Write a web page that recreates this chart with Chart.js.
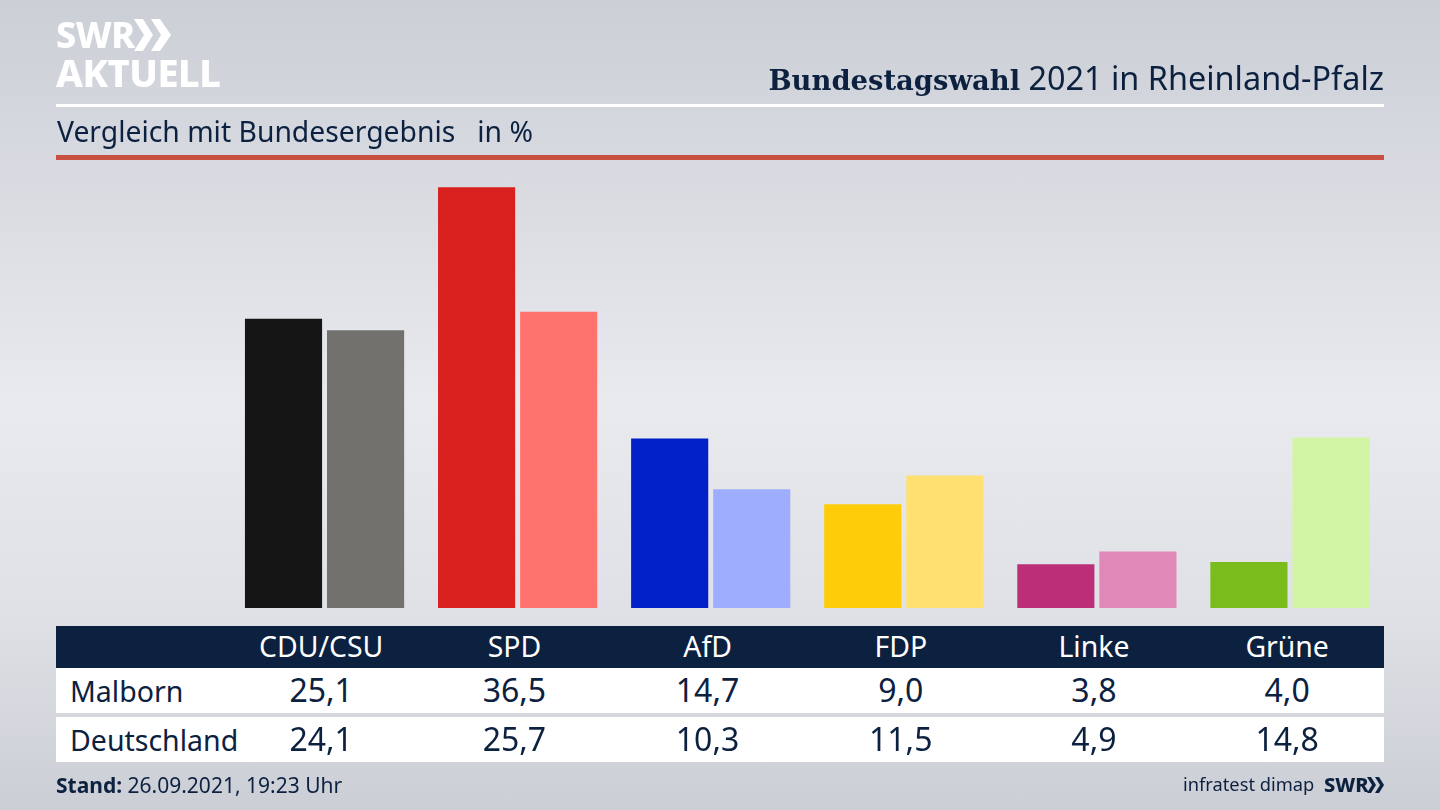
<!DOCTYPE html>
<html lang="de">
<head>
<meta charset="utf-8">
<title>Bundestagswahl 2021 in Rheinland-Pfalz</title>
<script src="https://cdn.jsdelivr.net/npm/chart.js@4"></script>
<style>
html, body { margin: 0; padding: 0; }
body {
    width: 1440px; height: 810px; overflow: hidden; position: relative;
    font-family: "Noto Sans", sans-serif; color: #0c2140;
    background: linear-gradient(180deg, #cbcfd6 0%, #dadce2 25%, #e9eaee 50%, #dfe1e6 75%, #cbced5 100%);
}
#chart { position: absolute; left: 0; top: 0; }
.abs { position: absolute; white-space: nowrap; }
.logo { color: #fff; font-weight: 800; letter-spacing: -0.5px; }
#title { right: 56px; top: 56px; font-size: 32.4px; line-height: 42px; }
#title b { font-family: "DejaVu Serif", serif; font-size: 27.4px; }
#subtitle { left: 57px; top: 112px; font-size: 28.3px; line-height: 38px; }
#rule1 { left: 56px; top: 104px; width: 1328px; height: 3px; background: #fff; }
#rule2 { left: 56px; top: 155px; width: 1328px; height: 5px; background: #c94f3f; }
#table { left: 56px; top: 626px; width: 1328px; }
.row { position: absolute; left: 0; width: 1328px; display: flex; background: #fff; align-items: center; font-size: 32px; }
.row.head { background: #0c2140; color: #fff; font-size: 28.4px; }
.row .name { width: 168.6px; padding-left: 14px; box-sizing: border-box; font-size: 28.5px; }
.row .cell { width: 193.2px; text-align: center; position: relative; top: -1px; }
#stand { left: 56px; top: 771px; font-size: 21px; line-height: 28px; }
#source { left: 1183px; top: 770px; font-size: 18.3px; line-height: 28px; }
</style>
</head>
<body>
<canvas id="chart" width="1440" height="810"></canvas>

<div class="abs logo" style="left:56px;top:13px;font-size:36px;line-height:44px;">SWR</div>
<svg class="abs" style="left:134px;top:19px;" width="38" height="32">
    <path d="M0 0h9l10 16-10 16h-9l10-16z M17 0h9l11 16-11 16h-9l10-16z" fill="#fff"/>
</svg>
<div class="abs logo" style="left:56px;top:50px;font-size:38px;line-height:44px;">AKTUELL</div>

<div class="abs" id="title"><b>Bundestagswahl</b> 2021 in Rheinland-Pfalz</div>
<div class="abs" id="rule1"></div>
<div class="abs" id="subtitle">Vergleich mit Bundesergebnis&nbsp;&nbsp; in %</div>
<div class="abs" id="rule2"></div>

<div class="abs" id="table"></div>

<div class="abs" id="stand"><b>Stand:</b> 26.09.2021, 19:23 Uhr</div>
<div class="abs" id="source">infratest dimap</div>
<div class="abs" style="left:1324px;top:771px;font-size:20px;line-height:28px;font-weight:800;">SWR</div>
<svg class="abs" style="left:1367px;top:777px;" width="17" height="16">
    <path d="M0 0h4l5 8-5 8h-4l5-8z M8 0h4l5 8-5 8h-4l5-8z" fill="#0c2140"/>
</svg>

<script>
const parties = ["CDU/CSU", "SPD", "AfD", "FDP", "Linke", "Grüne"];
const malborn = [25.1, 36.5, 14.7, 9.0, 3.8, 4.0];
const deutschland = [24.1, 25.7, 10.3, 11.5, 4.9, 14.8];
const malbornColors = ["#151515", "#d8201f", "#0220c8", "#ffcc0a", "#bc2f78", "#79bc1c"];
const deutschlandColors = ["#72716e", "#ff736e", "#9fadff", "#ffe070", "#e088b7", "#d2f5a5"];

// table under the bars
function fmt(v) {
    return v.toFixed(1).replace(".", ",");
}

function addRow(top, height, name, cells, cls) {
    const row = document.createElement("div");
    row.className = "row " + cls;
    row.style.top = top + "px";
    row.style.height = height + "px";
    let html = '<div class="name">' + name + "</div>";
    cells.forEach(c => { html += '<div class="cell">' + c + "</div>"; });
    row.innerHTML = html;
    document.getElementById("table").appendChild(row);
}

addRow(0, 42, "", parties, "head");
addRow(42, 45, "Malborn", malborn.map(fmt), "");
addRow(91, 45, "Deutschland", deutschland.map(fmt), "");

new Chart(document.getElementById("chart"), {
    type: "bar",
    data: {
        labels: parties,
        datasets: [
            { label: "Malborn", data: malborn, backgroundColor: malbornColors },
            { label: "Deutschland", data: deutschland, backgroundColor: deutschlandColors }
        ]
    },
    options: {
        responsive: false,
        animation: false,
        devicePixelRatio: 1,
        layout: { padding: { left: 228, right: 53.5, top: 147, bottom: 202 } },
        plugins: { legend: { display: false }, tooltip: { enabled: false } },
        datasets: { bar: { categoryPercentage: 0.85, barPercentage: 0.94 } },
        scales: {
            x: { display: false },
            y: { display: false, min: 0, max: 40 }
        }
    }
});
</script>
</body>
</html>
